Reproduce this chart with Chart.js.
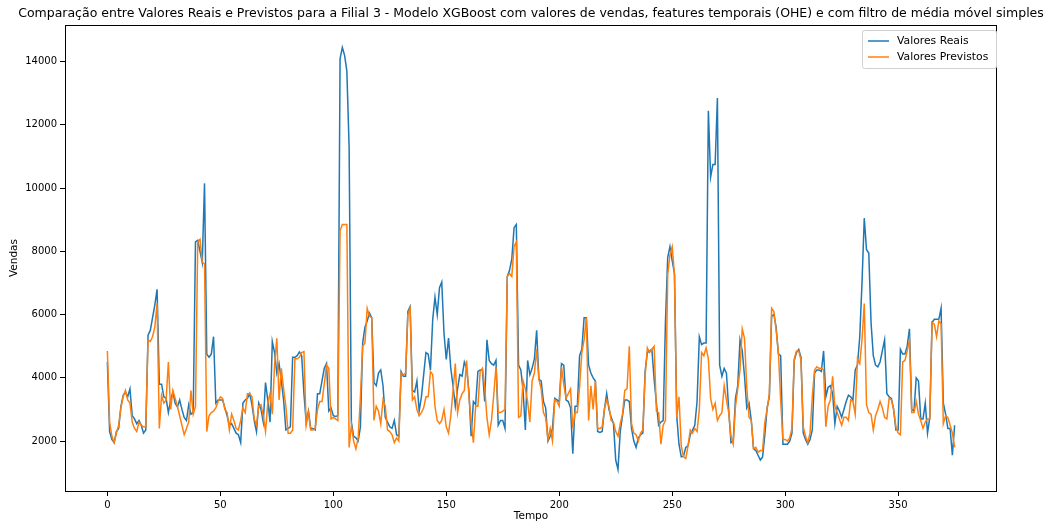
<!DOCTYPE html>
<html>
<head>
<meta charset="utf-8">
<script src="https://cdn.jsdelivr.net/npm/chart.js@4.4.1/dist/chart.umd.min.js"></script>
<style>
    body { margin: 0; background: #fff; }
    #wrap { width: 1045px; height: 522px; }
</style>
</head>
<body>
<div id="wrap"><canvas id="grafico"></canvas></div>
<script>
const titulo = "Comparação entre Valores Reais e Previstos para a Filial 3 - Modelo XGBoost com valores de vendas, features temporais (OHE) e com filtro de média móvel simples";

const valoresReais = [
    4500, 2300, 2050, 1950, 2300, 2400, 3100, 3450, 3550, 3400,
    3650, 2800, 2700, 2550, 2650, 2500, 2250, 2350, 5350, 5500,
    5900, 6300, 6800, 3800, 3800, 3400, 3350, 2900, 3300, 3550,
    3200, 3080, 3300, 3000, 2750, 2650, 3150, 2850, 2900, 8300,
    8350, 8000, 7650, 10150, 4750, 4650, 4750, 5300, 3200, 3300,
    3300, 3300, 3050, 2800, 2500, 2550, 2400, 2250, 2200, 1950,
    3200, 3300, 3350, 3500, 3150, 2650, 2300, 3200, 3000, 2600,
    3850, 3300, 2600, 5150, 4800, 4150, 4450, 3900, 3300, 2350,
    2400, 2450, 4650, 4650, 4700, 4820, 4700, 3500, 2600, 2950,
    2400, 2400, 2350, 3500, 3500, 3900, 4300, 4450, 2950, 3050,
    2800, 2780, 2800, 14100, 14450, 14200, 13700, 11300, 2600, 2150,
    2100, 2000, 2450, 5100, 5600, 5800, 6050, 5900, 3850, 3750,
    4150, 4250, 3750, 2750, 2600, 2450, 2400, 2650, 2200, 2150,
    4200, 4050, 4050, 6100, 6250, 3600, 3550, 3900, 2950, 3400,
    4100, 4800, 4750, 4250, 5850, 6550, 6000, 6850, 7030, 5400,
    4580, 5260, 4300, 3750, 3100, 3650, 4100, 4050, 4500, 4300,
    3600, 2150, 3250, 3150, 4200, 4250, 4250, 3250, 5200, 4550,
    4450, 4400, 4550, 2500, 2650, 2650, 2400, 7200, 7400, 7750,
    8750, 8850, 4400, 4250, 3600, 2350, 4550, 4100, 4300, 4600,
    5500, 3950, 3900, 3250, 3050, 2000, 2150, 2400, 3350, 3300,
    3250, 4450, 4400, 3300, 3250, 3050, 1600, 3100, 3100, 4700,
    4900, 5900, 5900, 4400, 4150, 4000, 3900, 2300, 2270, 2300,
    3000, 3500, 3000, 2750, 2550, 1400, 1100, 2300, 2800, 3300,
    3300, 3250, 2400, 2000, 1800, 2100, 2200, 2250, 4200, 4800,
    4850, 4900, 3950, 3200, 2500, 2600, 2650, 5750, 7800, 8150,
    7700, 7300, 2800, 1900, 1500, 1520, 1800, 1850, 2200, 2350,
    2500, 3250, 5300, 5050, 5100, 5100, 12450, 10350, 10750, 10750,
    12850, 4400, 4050, 4300, 4150, 3000, 1950, 2000, 3350, 3750,
    5200, 4850, 4050, 3050, 3200, 2650, 1750, 1700, 1550, 1400,
    1500, 2200, 3050, 3400, 5950, 6000, 5600, 4750, 4700, 1900,
    1900, 1900, 2000, 2250, 4550, 4800, 4900, 4650, 2250, 2050,
    1900, 2050, 2350, 4150, 4250, 4250, 4200, 4850, 3400, 3700,
    3750, 3500, 2550, 3100, 2950, 2750, 3000, 3250, 3450, 3400,
    3300, 4250, 4400, 5300, 7000, 9050, 8050, 7950, 5750, 4700,
    4400, 4350, 4500, 4850, 5200, 3500, 3400, 3350, 3000, 2350,
    2350, 4900, 4750, 4750, 5000, 5550, 3000, 2950, 4000, 3900,
    2700, 2700, 3200, 2250, 2750, 5750, 5850, 5850, 5850, 6200,
    3200, 2850, 2400, 2400, 1550, 2500
];

const valoresPrevistos = [
    4850, 2600, 2150, 1950, 2250, 2500, 3050, 3400, 3600, 3300,
    3200, 2600, 2400, 2300, 2600, 2500, 2450, 2450, 5200, 5150,
    5300, 5600, 6350, 2400, 3450, 3200, 3300, 4500, 3000, 3600,
    3350, 3100, 2800, 2500, 2200, 2400, 2600, 3600, 2850, 3100,
    8300, 8380, 7650, 7600, 2300, 2800, 2900, 2950, 3050, 3250,
    3400, 3350, 3000, 2900, 2350, 2850, 2650, 2400, 2350, 2650,
    3050, 2900, 3500, 3500, 3400, 2700, 2500, 3100, 3150, 2800,
    2300, 3200, 3500, 2850, 4400, 5250, 3300, 4300, 3650, 3100,
    2250, 2250, 2350, 4600, 4600, 4650, 4800, 4830, 2500, 2900,
    2350, 2350, 2400, 3000, 3250, 3250, 3800, 4400, 4300, 2700,
    2750, 2700, 2650, 8650, 8850, 8850, 8850, 1800, 2500, 2000,
    1750, 2100, 3400, 5000, 5100, 6200, 5950, 5900, 2650, 3100,
    2950, 2550, 3300, 3100, 2350, 2300, 2200, 1950, 2100, 2000,
    4150, 4100, 4150, 6000, 6200, 3300, 3400, 3000, 2800, 2900,
    3050, 3400, 3400, 4200, 4100, 3100, 2650, 2550, 2650, 3000,
    2450, 2250, 2800, 3600, 4450, 2900, 3300, 3500, 3600, 4550,
    3450, 2600, 1950, 3100, 3100, 4200, 4300, 3700, 2750, 2200,
    2650, 3450, 4350, 2900, 2900, 2950, 3000, 7200, 7300, 7200,
    8150, 8300, 2750, 2800, 3900, 3650, 3250, 2600, 3900, 4150,
    4900, 3950, 3650, 2900, 2750, 2050, 2400, 2000, 3300, 3250,
    3100, 4350, 3800, 3350, 3500, 3650, 2400, 2900, 2900, 3700,
    4800, 5200, 5900, 2650, 3750, 3000, 3900, 2400, 2400, 2450,
    3000, 3300, 3100, 2650, 2600, 2300, 2150, 2550, 2850, 3600,
    3650, 5000, 2550, 2250, 2200, 2000, 2250, 2350, 4050, 4950,
    4800, 4900, 5000, 2950, 2900, 1900, 2500, 2650, 7250, 7900,
    8150, 7250, 2750, 3400, 1850, 1500, 1450, 1850, 2350, 2250,
    2400, 2300, 3000, 4800, 4700, 4950, 4600, 3350, 3000, 3200,
    2650, 2800, 2900, 3750, 3300, 2900, 2150, 1900, 3100, 3650,
    4250, 5550, 5250, 3700, 2750, 2650, 1750, 1800, 1650, 1700,
    1700, 2600, 3000, 3500, 6200, 6100, 5500, 4800, 3300, 2050,
    2050, 2000, 2100, 2400, 4600, 4850, 4850, 4550, 2450, 2150,
    1950, 2250, 3400, 4250, 4350, 4300, 4300, 4250, 2450, 3100,
    3300, 4050, 3100, 2900, 2700, 2500, 2750, 2750, 2650, 3300,
    3250, 2850, 4600, 4450, 5200, 6350, 3150, 2900, 2850, 2350,
    2800, 3000, 3250, 3050, 2750, 2700, 3350, 3300, 3000, 2450,
    2250, 2200, 4500, 4550, 4850, 5200, 2900, 2900, 3250, 2850,
    2650, 2400, 2600, 2700, 2700, 5750, 5700, 5300, 5800, 5700,
    2550, 2800, 2750, 2500, 2250, 1800
];

const tempo = Array.from({ length: valoresReais.length }, (_, i) => i);
const xTicks = [0, 50, 100, 150, 200, 250, 300, 350];
const yTicks = [2000, 4000, 6000, 8000, 10000, 12000, 14000];

const FONTE = '"DejaVu Sans", sans-serif';
const AZUL = "#1f77b4";
const LARANJA = "#ff7f0e";

// title, axis titles, frame and legend drawn by hand (matplotlib look)
const molduraPlugin = {
    id: "moldura",
    afterDraw(chart) {
        const { ctx, chartArea: a } = chart;
        ctx.save();
        ctx.strokeStyle = "#000";
        ctx.lineWidth = 1;
        ctx.strokeRect(a.left + 0.5, a.top + 0.5, a.right - a.left - 1, a.bottom - a.top);

        ctx.fillStyle = "#000";
        ctx.textAlign = "center";
        ctx.textBaseline = "middle";
        ctx.font = "12.5px " + FONTE;
        ctx.fillText(titulo, (a.left + a.right) / 2, 14);

        ctx.font = "10.5px " + FONTE;
        ctx.textBaseline = "top";
        ctx.fillText("Tempo", (a.left + a.right) / 2, 511);
        ctx.save();
        ctx.translate(14, (a.top + a.bottom) / 2);
        ctx.rotate(-Math.PI / 2);
        ctx.textBaseline = "middle";
        ctx.fillText("Vendas", 0, 0);
        ctx.restore();

        // legend box
        const lx = 862, ly = 30, lw = 134, lh = 38;
        ctx.fillStyle = "rgba(255,255,255,0.8)";
        ctx.strokeStyle = "#d0d0d0";
        ctx.beginPath();
        ctx.roundRect(lx + 0.5, ly + 0.5, lw, lh, 2);
        ctx.fill();
        ctx.stroke();
        const itens = [["Valores Reais", AZUL, ly + 11], ["Valores Previstos", LARANJA, ly + 27]];
        ctx.font = "10.8px " + FONTE;
        ctx.textAlign = "left";
        ctx.textBaseline = "middle";
        itens.forEach(([txt, cor, y]) => {
            ctx.strokeStyle = cor;
            ctx.lineWidth = 1.5;
            ctx.beginPath();
            ctx.moveTo(lx + 6, y);
            ctx.lineTo(lx + 27, y);
            ctx.stroke();
            ctx.fillStyle = "#000";
            ctx.fillText(txt, lx + 35, y);
        });
        ctx.restore();
    }
};

new Chart(document.getElementById("grafico"), {
    type: "line",
    data: {
        datasets: [
            {
                label: "Valores Reais",
                data: tempo.map((t, i) => ({ x: t, y: valoresReais[i] })),
                borderColor: AZUL,
                borderWidth: 1.5,
                pointRadius: 0,
                tension: 0,
                order: 1,
            },
            {
                label: "Valores Previstos",
                data: tempo.map((t, i) => ({ x: t, y: valoresPrevistos[i] })),
                borderColor: LARANJA,
                borderWidth: 1.5,
                pointRadius: 0,
                tension: 0,
                order: 0,
            },
        ],
    },
    options: {
        responsive: true,
        maintainAspectRatio: false,
        animation: false,
        layout: { padding: { top: 25, right: 48, left: 0, bottom: 0 } },
        plugins: {
            legend: { display: false },
            title: { display: false },
            tooltip: { enabled: false },
        },
        scales: {
            x: {
                type: "linear",
                min: -18.75,
                max: 393.75,
                afterBuildTicks: (s) => { s.ticks = xTicks.map(v => ({ value: v })); },
                afterFit: (s) => { s.height = 31; },
                grid: { drawOnChartArea: false, drawTicks: true, tickLength: 5, color: "#000" },
                border: { display: false },
                ticks: { color: "#000", font: { family: FONTE, size: 10 }, padding: 3, maxRotation: 0 },
            },
            y: {
                min: 420,
                max: 15160,
                afterBuildTicks: (s) => { s.ticks = yTicks.map(v => ({ value: v })); },
                afterFit: (s) => { s.width = 65; },
                grid: { drawOnChartArea: false, drawTicks: true, tickLength: 5, color: "#000" },
                border: { display: false },
                ticks: { color: "#000", font: { family: FONTE, size: 10 }, padding: 3, callback: (v) => String(v) },
            },
        },
    },
    plugins: [molduraPlugin],
});
</script>
</body>
</html>
